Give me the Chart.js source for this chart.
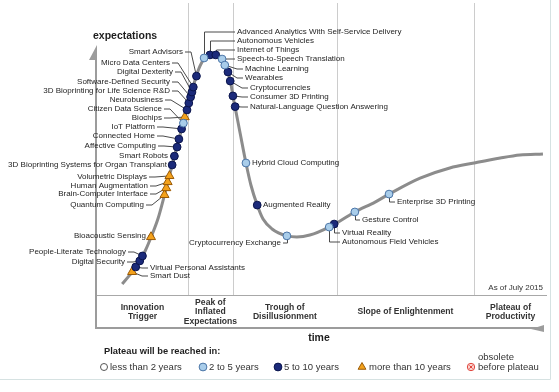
<!DOCTYPE html>
<html>
<head>
<meta charset="utf-8">
<title>Hype Cycle for Emerging Technologies, 2015</title>
<script src="https://cdn.jsdelivr.net/npm/chart.js@4.4.0/dist/chart.umd.min.js"></script>
<style>
    html, body { margin: 0; padding: 0; background: #ffffff; }
    canvas { display: block; }
</style>
</head>
<body>
<canvas id="hypeChart" width="559" height="392"></canvas>
<script>
const FONT = '"Liberation Sans", Arial, sans-serif';

// the hype curve itself: time (0-100) vs expectations (0-100)
const curveTime   = [5.6, 7.3, 9.1, 10.7, 12.2, 13.6, 14.7, 15.8, 16.9, 18.0, 19.1, 20.2, 21.1, 22.0, 22.9, 23.8, 25.1, 26.4, 27.8, 28.7, 29.3, 29.8, 30.2, 30.9, 31.8, 33.1, 34.2, 35.6, 36.9, 38.9, 42.2, 44.4, 47.3, 51.6, 54.0, 57.3, 61.8, 64.9, 71.8, 78.4, 83.8, 89.6, 94.0, 99.1];
const curveExpect = [4.0, 7.3, 11.3, 16.0, 21.8, 28.0, 34.5, 41.5, 48.4, 55.3, 62.2, 68.7, 74.2, 79.3, 83.3, 85.8, 87.3, 87.3, 85.8, 83.3, 80.0, 76.4, 72.4, 66.5, 58.9, 48.0, 40.0, 32.7, 27.6, 24.0, 21.5, 21.1, 21.8, 24.7, 26.9, 30.2, 33.8, 36.7, 42.5, 46.2, 48.0, 49.8, 50.9, 51.3];

// technologies on the curve
const techNames = [
    'Smart Dust', 'Virtual Personal Assistants', 'Digital Security', 'People-Literate Technology',
    'Bioacoustic Sensing', 'Quantum Computing', 'Brain-Computer Interface', 'Human Augmentation',
    'Volumetric Displays', '3D Bioprinting Systems for Organ Transplant', 'Smart Robots',
    'Affective Computing', 'Connected Home', 'IoT Platform', 'Citizen Data Science', 'Biochips',
    'Neurobusiness', '3D Bioprinting for Life Science R&D', 'Software-Defined Security',
    'Digital Dexterity', 'Micro Data Centers', 'Smart Advisors',
    'Advanced Analytics With Self-Service Delivery', 'Autonomous Vehicles', 'Internet of Things',
    'Speech-to-Speech Translation', 'Machine Learning', 'Wearables', 'Cryptocurrencies',
    'Consumer 3D Printing', 'Natural-Language Question Answering',
    'Hybrid Cloud Computing', 'Augmented Reality', 'Cryptocurrency Exchange',
    'Autonomous Field Vehicles', 'Virtual Reality', 'Gesture Control', 'Enterprise 3D Printing'
];
const techTime   = [7.8, 8.6, 9.5, 10.1, 12.0, 15.0, 15.4, 15.7, 16.1, 16.7, 17.2, 17.8, 18.2, 18.8, 19.2, 19.5, 20.0, 20.4, 20.8, 21.1, 21.4, 22.1, 23.8, 25.1, 26.4, 27.8, 28.4, 29.1, 29.6, 30.2, 30.7, 33.1, 35.6, 42.2, 51.6, 52.7, 57.3, 64.9];
const techExpect = [8.4, 10.2, 12.4, 14.2, 21.1, 36.4, 38.9, 41.1, 43.3, 47.3, 50.5, 53.8, 56.7, 60.4, 62.5, 64.7, 67.3, 69.8, 72.0, 73.8, 75.6, 79.6, 86.2, 87.3, 87.3, 85.8, 83.6, 81.1, 77.8, 72.4, 68.5, 48.0, 32.7, 21.5, 24.7, 25.8, 30.2, 36.7];
// index into plateauLabels
const techPlateau = [3, 2, 2, 2, 3, 3, 3, 3, 3, 2, 2, 2, 2, 2, 1, 3, 2, 2, 2, 2, 2, 2, 1, 2, 2, 1, 1, 2, 2, 2, 2, 1, 2, 1, 1, 2, 1, 1];

const plateauLabels = ['less than 2 years', '2 to 5 years', '5 to 10 years', 'more than 10 years', 'obsolete before plateau'];

const phaseLabels = [['Innovation', 'Trigger'], ['Peak of', 'Inflated', 'Expectations'], ['Trough of', 'Disillusionment'], ['Slope of Enlightenment'], ['Plateau of', 'Productivity']];
const phaseBounds = [0, 20.2, 30.2, 53.3, 83.8, 100];

// marker look per plateau class
const plateauStyle = [
    { pointStyle: 'circle',   radius: 3.5, bg: '#ffffff', border: '#555555' },
    { pointStyle: 'circle',   radius: 3.9, bg: '#a9cdea', border: '#4a74a6' },
    { pointStyle: 'circle',   radius: 3.9, bg: '#1b2a7a', border: '#0a144c' },
    { pointStyle: 'triangle', radius: 5.2, bg: '#f4a21c', border: '#9a5a06' },
    { pointStyle: 'circle',   radius: 3.7, bg: '#fbd2ce', border: '#e0453c' }
];

// where each label goes (canvas px): x, y, text align, leader type
const labelSpots = [
    [150, 276, 'left', 'out'], [150, 268, 'left', 'out'], [125, 262, 'right', 'in'], [126, 252, 'right', 'in'],
    [146, 236, 'right', 'in'], [144, 205, 'right', 'in'], [148, 194, 'right', 'in'], [148, 186, 'right', 'in'],
    [147, 177, 'right', 'in'], [167, 165, 'right', 'in'], [168, 156, 'right', 'in'], [156, 146, 'right', 'in'],
    [155, 136, 'right', 'in'], [155, 127, 'right', 'in'], [162, 109, 'right', 'in'], [162, 118, 'right', 'in'],
    [163, 100, 'right', 'in'], [170, 91, 'right', 'in'], [170, 82, 'right', 'in'], [173, 72, 'right', 'in'],
    [170, 63, 'right', 'in'], [183, 52, 'right', 'in'],
    [237, 32, 'left', 'top'], [237, 41, 'left', 'top'], [237, 50, 'left', 'top'], [237, 59, 'left', 'out'],
    [245, 69, 'left', 'out'], [245, 78, 'left', 'out'], [250, 88, 'left', 'out'], [250, 97, 'left', 'out'],
    [250, 107, 'left', 'out'],
    [252, 163, 'left', 'none'], [263, 205, 'left', 'none'], [281, 243, 'right', 'hook'],
    [342, 242, 'left', 'down'], [342, 233, 'left', 'down'], [362, 220, 'left', 'down'], [397, 202, 'left', 'down']
];

function markerAt(chart, i) {
    return {
        x: chart.scales.x.getPixelForValue(techTime[i]),
        y: chart.scales.y.getPixelForValue(techExpect[i])
    };
}

function drawLegendMarker(ctx, cls, x, y) {
    const st = plateauStyle[cls];
    ctx.fillStyle = st.bg;
    ctx.strokeStyle = st.border;
    ctx.lineWidth = 1;
    Chart.helpers.drawPoint(ctx, { pointStyle: st.pointStyle, radius: Math.min(st.radius, 4.5), borderWidth: 1, rotation: 0 }, x, y);
    if (cls === 4) {
        Chart.helpers.drawPoint(ctx, { pointStyle: 'crossRot', radius: 2.2, borderWidth: 1, rotation: 0 }, x, y);
    }
}

const hypeDecor = {
    id: 'hypeDecor',
    beforeDatasetsDraw(chart) {
        const { ctx, chartArea: area, scales: { x } } = chart;
        const bandBottom = area.bottom + 33;
        ctx.save();

        // outer frame (right and bottom)
        ctx.strokeStyle = '#d6e2e2';
        ctx.lineWidth = 1;
        ctx.beginPath();
        ctx.moveTo(0, 379.5);
        ctx.lineTo(550.5, 379.5);
        ctx.lineTo(550.5, 0);
        ctx.stroke();

        // phase separators
        ctx.strokeStyle = '#cccccc';
        phaseBounds.slice(1, -1).forEach(t => {
            const px = Math.round(x.getPixelForValue(t)) + 0.5;
            ctx.beginPath();
            ctx.moveTo(px, 3);
            ctx.lineTo(px, area.bottom);
            ctx.stroke();
        });

        // top of the phase band
        ctx.strokeStyle = '#a8a8a8';
        ctx.beginPath();
        ctx.moveTo(area.left, area.bottom + 0.5);
        ctx.lineTo(area.right, area.bottom + 0.5);
        ctx.stroke();

        // time axis with arrow
        ctx.strokeStyle = '#9c9c9c';
        ctx.fillStyle = '#9c9c9c';
        ctx.lineWidth = 2;
        ctx.beginPath();
        ctx.moveTo(area.left - 2, bandBottom);
        ctx.lineTo(area.right - 4, bandBottom);
        ctx.stroke();
        ctx.beginPath();
        ctx.moveTo(area.right - 16, bandBottom + 1);
        ctx.lineTo(area.right - 3, bandBottom - 3);
        ctx.lineTo(area.right - 3, bandBottom + 4);
        ctx.closePath();
        ctx.fill();

        // expectations axis with arrow
        ctx.beginPath();
        ctx.moveTo(area.left - 1, 58);
        ctx.lineTo(area.left - 1, bandBottom + 1);
        ctx.stroke();
        ctx.beginPath();
        ctx.moveTo(area.left, 45);
        ctx.lineTo(area.left - 8, 60);
        ctx.lineTo(area.left, 60);
        ctx.closePath();
        ctx.fill();

        // leader lines
        ctx.strokeStyle = '#4a4a4a';
        ctx.lineWidth = 1;
        labelSpots.forEach((spot, i) => {
            const [lx, ly, , kind] = spot;
            const m = markerAt(chart, i);
            ctx.beginPath();
            if (kind === 'in') {
                ctx.moveTo(lx + 2, ly);
                ctx.lineTo(lx + 8, ly);
                ctx.lineTo(m.x, m.y);
            } else if (kind === 'out') {
                ctx.moveTo(m.x, m.y);
                ctx.lineTo(lx - 8, ly);
                ctx.lineTo(lx - 2, ly);
            } else if (kind === 'top') {
                ctx.moveTo(lx - 2, ly);
                ctx.lineTo(Math.round(m.x) + 0.5, ly);
                ctx.lineTo(Math.round(m.x) + 0.5, m.y);
            } else if (kind === 'down') {
                ctx.moveTo(Math.round(m.x) + 0.5, m.y);
                ctx.lineTo(Math.round(m.x) + 0.5, ly);
                ctx.lineTo(lx - 2, ly);
            } else if (kind === 'hook') {
                ctx.moveTo(lx + 2, ly);
                ctx.lineTo(Math.round(m.x) + 0.5, ly);
                ctx.lineTo(Math.round(m.x) + 0.5, m.y);
            }
            ctx.stroke();
        });
        ctx.restore();
    },
    afterDraw(chart) {
        const { ctx, scales: { x } } = chart;
        ctx.save();
        ctx.textBaseline = 'middle';
        ctx.fillStyle = '#1e1e1e';

        // technology labels
        ctx.font = '8px ' + FONT;
        labelSpots.forEach((spot, i) => {
            ctx.textAlign = spot[2];
            ctx.fillText(techNames[i], spot[0], spot[1]);
        });

        // axis titles
        ctx.font = 'bold 10.5px ' + FONT;
        ctx.textAlign = 'left';
        ctx.fillText('expectations', 93, 36);
        ctx.textAlign = 'center';
        ctx.fillText('time', 319, 338);

        ctx.font = '8px ' + FONT;
        ctx.textAlign = 'right';
        ctx.fillStyle = '#333333';
        ctx.fillText('As of July 2015', 543, 288);

        // phase names in the band
        ctx.font = 'bold 8.6px ' + FONT;
        ctx.textAlign = 'center';
        phaseLabels.forEach((lines, i) => {
            const cx = (x.getPixelForValue(phaseBounds[i]) + x.getPixelForValue(phaseBounds[i + 1])) / 2;
            const top = 312 - (lines.length - 1) * 9.7 / 2;
            lines.forEach((line, k) => ctx.fillText(line, cx, top + k * 9.7));
        });

        // legend
        ctx.fillStyle = '#1e1e1e';
        ctx.textAlign = 'left';
        ctx.font = 'bold 9.3px ' + FONT;
        ctx.fillText('Plateau will be reached in:', 104, 351);

        const legendX = [104, 203, 278, 362, 471];
        ctx.font = '9.5px ' + FONT;
        plateauLabels.forEach((text, i) => {
            drawLegendMarker(ctx, i, legendX[i], 367);
            ctx.fillStyle = '#333333';
            if (i === 4) {
                ctx.fillText('obsolete', legendX[i] + 7, 357);
                ctx.fillText('before plateau', legendX[i] + 7, 367);
            } else {
                ctx.fillText(text, legendX[i] + (i === 3 ? 7 : 6), 367);
            }
        });
        ctx.restore();
    }
};

const markerSets = plateauLabels.map((label, cls) => {
    const st = plateauStyle[cls];
    return {
        type: 'scatter',
        label: label,
        data: techNames.map((n, i) => i).filter(i => techPlateau[i] === cls)
            .map(i => ({ x: techTime[i], y: techExpect[i] })),
        pointStyle: st.pointStyle,
        pointRadius: st.radius,
        pointBackgroundColor: st.bg,
        pointBorderColor: st.border,
        pointBorderWidth: 1,
        clip: false,
        order: 0
    };
});

document.addEventListener('DOMContentLoaded', () => {
    new Chart(document.getElementById('hypeChart'), {
        type: 'scatter',
        data: {
            datasets: [{
                type: 'line',
                label: 'hype curve',
                data: curveTime.map((t, i) => ({ x: t, y: curveExpect[i] })),
                borderColor: '#8c8c8c',
                borderWidth: 3,
                pointRadius: 0,
                fill: false,
                cubicInterpolationMode: 'monotone',
                order: 10
            }].concat(markerSets)
        },
        options: {
            responsive: false,
            animation: false,
            events: [],
            layout: { padding: { left: 97, right: 12, top: 20, bottom: 97 } },
            scales: {
                x: { type: 'linear', min: 0, max: 100, display: false },
                y: { type: 'linear', min: 0, max: 100, display: false }
            },
            plugins: {
                legend: { display: false },
                tooltip: { enabled: false }
            }
        },
        plugins: [hypeDecor]
    });
});
</script>
</body>
</html>
